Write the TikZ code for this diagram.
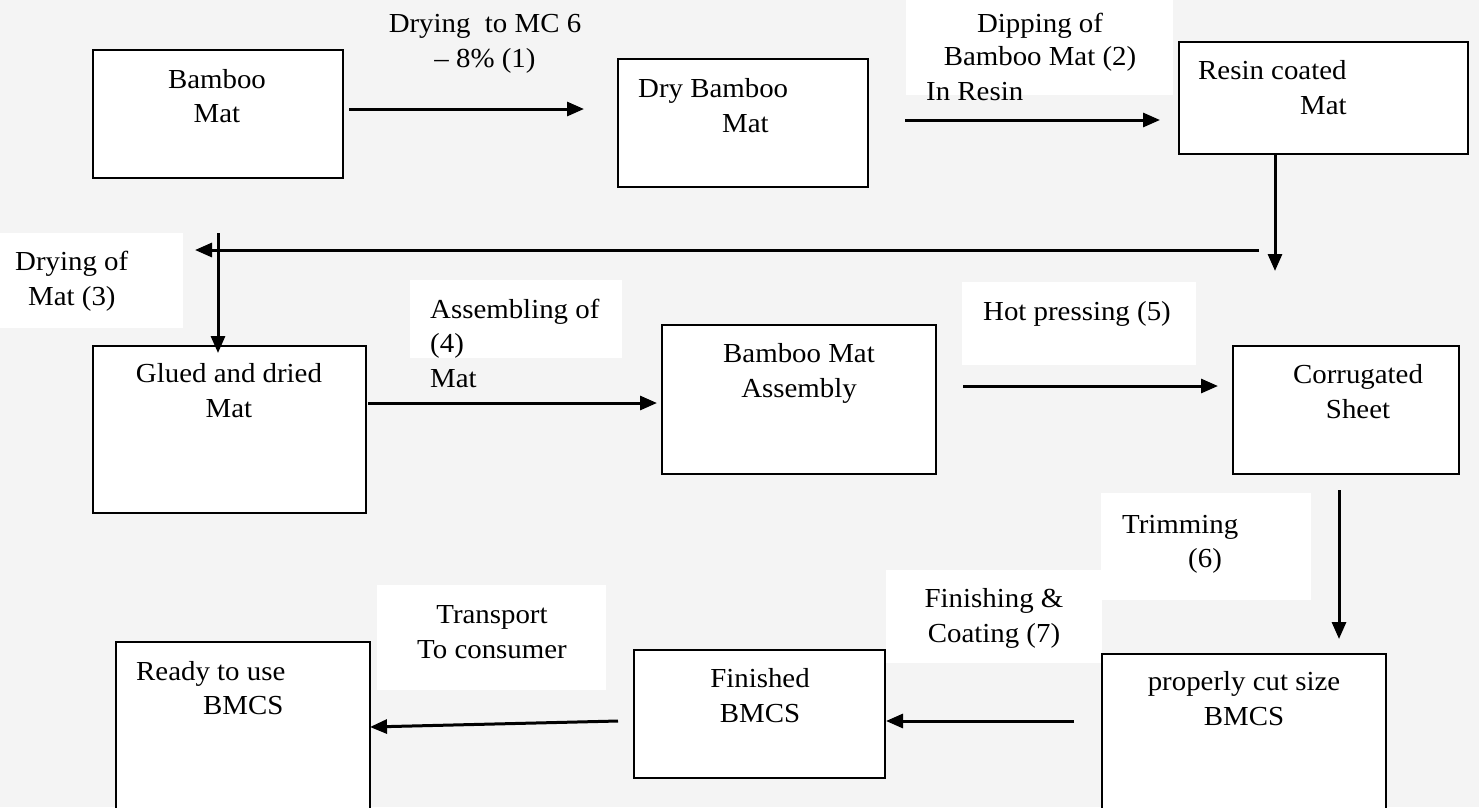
\documentclass[tikz,border=0pt]{standalone}
\usepackage{fontspec}
\setmainfont[FakeStretch=1.05]{Liberation Serif}
\usetikzlibrary{arrows.meta}
\definecolor{bgc}{RGB}{244,244,244}
\newcommand\fsz{\fontsize{27.5}{34.6}\selectfont}
\tikzset{
  box/.style={draw=black, fill=white, line width=2pt, inner sep=0pt},
  lbl/.style={fill=white, draw=none, inner sep=0pt},
  tc/.style={font=\fsz, inner sep=0pt, anchor=base},
  tl/.style={font=\fsz, inner sep=0pt, anchor=base west},
  arr/.style={line width=3pt, -{Triangle[length=17pt,width=14pt]}},
}
\begin{document}
\begin{tikzpicture}[x=1pt,y=-1pt]
\useasboundingbox (0,0) rectangle (1479,807);
\fill[bgc] (0,0) rectangle (1479,807);

% white label backgrounds
\node[lbl, minimum width=267pt, minimum height=95pt] (l2) at (1039.5,47.5) {};
\node[lbl, minimum width=183pt, minimum height=95pt] (l3) at (91.5,280.5) {};
\node[lbl, minimum width=212pt, minimum height=78pt] (l4) at (516,319) {};
\node[lbl, minimum width=234pt, minimum height=83pt] (l5) at (1079,323.5) {};
\node[lbl, minimum width=210pt, minimum height=107pt] (l6) at (1206,546.5) {};
\node[lbl, minimum width=216pt, minimum height=93pt] (l7) at (994,616.5) {};
\node[lbl, minimum width=229pt, minimum height=105pt] (l8) at (491.5,637.5) {};

% boxes
\node[box, minimum width=250pt, minimum height=128pt] (b1) at (218,113.5) {};
\node[box, minimum width=250pt, minimum height=128pt] (b2) at (743,123) {};
\node[box, minimum width=289pt, minimum height=112pt] (b3) at (1323.5,98) {};
\node[box, minimum width=273pt, minimum height=167pt] (b4) at (229.5,429.5) {};
\node[box, minimum width=274pt, minimum height=149pt] (b5) at (799,399.5) {};
\node[box, minimum width=226pt, minimum height=128pt] (b6) at (1346,410) {};
\node[box, minimum width=284pt, minimum height=170pt] (b7) at (1244,739) {};
\node[box, minimum width=251pt, minimum height=128pt] (b8) at (759.5,714) {};
\node[box, minimum width=254pt, minimum height=180pt] (b9) at (243,732) {};

% texts
\node[tc] (t1a) at (217,88) {Bamboo};
\node[tc] (t1b) at (217,122) {Mat};
\node[tc] (t2a) at (485,32) {Drying\ \ to MC 6};
\node[tc] (t2b) at (485,67) {– 8\% (1)};
\node[tl] (t3a) at (638,97) {Dry Bamboo};
\node[tl] (t3b) at (722,132) {Mat};
\node[tc] (t4a) at (1040,32) {Dipping of};
\node[tc] (t4b) at (1040,65) {Bamboo Mat (2)};
\node[tl] (t4c) at (926,100) {In Resin};
\node[tl] (t5a) at (1198,79) {Resin coated};
\node[tl] (t5b) at (1300,114) {Mat};
\node[tl] (t6a) at (15,270) {Drying of};
\node[tl] (t6b) at (28,305) {Mat (3)};
\node[tc] (t7a) at (229,382) {Glued and dried};
\node[tc] (t7b) at (229,417) {Mat};
\node[tl] (t8a) at (430,318) {Assembling of};
\node[tl] (t8b) at (430,352) {(4)};
\node[tl] (t8c) at (430,387) {Mat};
\node[tc] (t9a) at (799,362) {Bamboo Mat};
\node[tc] (t9b) at (799,397) {Assembly};
\node[tc] (t10) at (1077,320) {Hot pressing (5)};
\node[tc] (t11a) at (1358,383) {Corrugated};
\node[tc] (t11b) at (1358,418) {Sheet};
\node[tl] (t12a) at (1122,533) {Trimming};
\node[tl] (t12b) at (1188,567) {(6)};
\node[tc] (t13a) at (1244,690) {properly cut size};
\node[tc] (t13b) at (1244,725) {BMCS};
\node[tc] (t14a) at (994,607) {Finishing \&};
\node[tc] (t14b) at (994,642) {Coating (7)};
\node[tc] (t15a) at (760,687) {Finished};
\node[tc] (t15b) at (760,722) {BMCS};
\node[tc] (t16a) at (492,623) {Transport};
\node[tc] (t16b) at (492,658) {To consumer};
\node[tl] (t17a) at (136,680) {Ready to use};
\node[tl] (t17b) at (203,714) {BMCS};

% connector end points
\coordinate (a1s) at (349,109);   \coordinate (a1e) at (584,109);
\coordinate (a2s) at (905,120);   \coordinate (a2e) at (1160,120);
\coordinate (a3s) at (1275,154);  \coordinate (a3e) at (1275,271);
\coordinate (a4s) at (1259,250);  \coordinate (a4e) at (195,250);
\coordinate (a5s) at (218,233);   \coordinate (a5e) at (218,353);
\coordinate (a6s) at (368,403);   \coordinate (a6e) at (657,403);
\coordinate (a7s) at (963,386);   \coordinate (a7e) at (1218,386);
\coordinate (a8s) at (1339,490);  \coordinate (a8e) at (1339,639);
\coordinate (a9s) at (1074,721);  \coordinate (a9e) at (886,721);
\coordinate (a10s) at (618,721);  \coordinate (a10e) at (370,727);

\draw[arr] (a1s) -- (a1e);
\draw[arr] (a2s) -- (a2e);
\draw[arr] (a3s) -- (a3e);
\draw[arr] (a4s) -- (a4e);
\draw[arr] (a5s) -- (a5e);
\draw[arr] (a6s) -- (a6e);
\draw[arr] (a7s) -- (a7e);
\draw[arr] (a8s) -- (a8e);
\draw[arr] (a9s) -- (a9e);
\draw[arr] (a10s) -- (a10e);
\end{tikzpicture}
\end{document}
